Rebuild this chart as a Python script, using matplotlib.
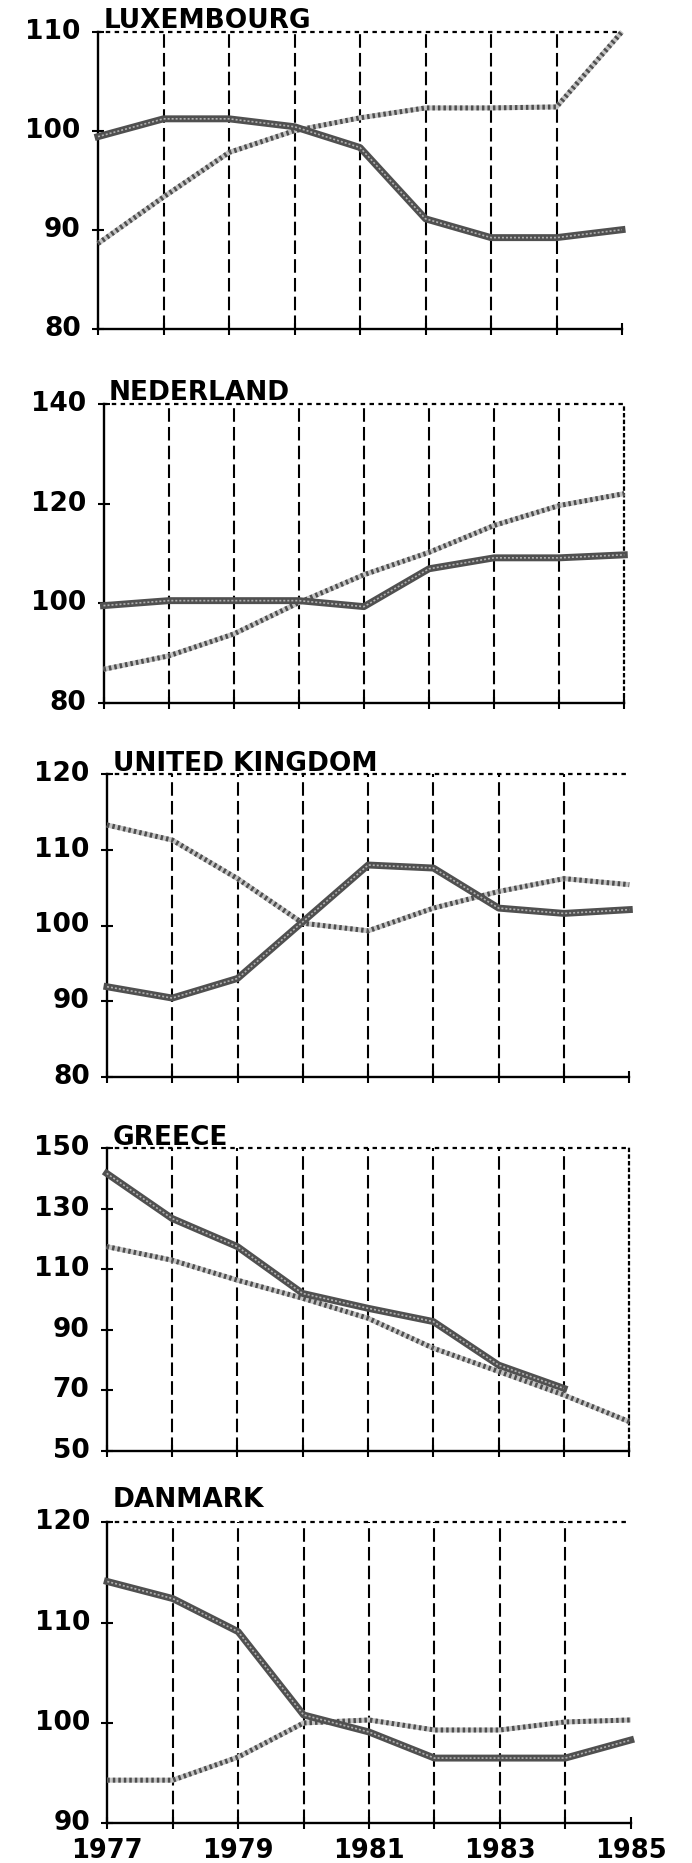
import matplotlib
matplotlib.use("Agg")
import matplotlib.pyplot as plt
import numpy as np

# ---------------- data ----------------
years = [1977, 1978, 1979, 1980, 1981, 1982, 1983, 1984, 1985]
year_labels = ["1977", "", "1979", "", "1981", "", "1983", "", "1985"]

countries = ["LUXEMBOURG", "NEDERLAND", "UNITED KINGDOM", "GREECE", "DANMARK"]

lux_solid = [99.4, 101.2, 101.2, 100.4, 98.3, 91.1, 89.2, 89.2, 90.0]
lux_dotted = [88.6, 93.3, 97.8, 100.0, 101.3, 102.3, 102.3, 102.4, 110.0]

ned_solid = [99.5, 100.5, 100.5, 100.5, 99.3, 106.9, 109.1, 109.1, 109.7]
ned_dotted = [86.7, 89.4, 93.8, 100.1, 105.7, 110.2, 115.6, 119.6, 122.0]

uk_solid = [91.9, 90.4, 93.0, 100.5, 108.0, 107.6, 102.3, 101.6, 102.1]
uk_dotted = [113.3, 111.3, 106.2, 100.3, 99.3, 102.3, 104.5, 106.2, 105.4]

gr_solid = [141.7, 126.8, 117.5, 102.0, 97.1, 92.7, 78.3, 70.6, np.nan]
gr_dotted = [117.5, 113.0, 106.4, 100.4, 93.8, 83.9, 76.2, 68.4, 59.6]

dk_solid = [114.1, 112.4, 109.1, 100.8, 99.1, 96.5, 96.5, 96.5, 98.3]
dk_dotted = [94.3, 94.3, 96.6, 100.0, 100.3, 99.3, 99.3, 100.1, 100.3]

solid_series = [lux_solid, ned_solid, uk_solid, gr_solid, dk_solid]
dotted_series = [lux_dotted, ned_dotted, uk_dotted, gr_dotted, dk_dotted]

y_ticks = [
    [80, 90, 100, 110],
    [80, 100, 120, 140],
    [80, 90, 100, 110, 120],
    [50, 70, 90, 110, 130, 150],
    [90, 100, 110, 120],
]

# ---------------- layout / style ----------------
W, H = 692, 1863
# panel boxes in pixels: left, right, top, bottom
boxes = [
    (98, 622, 31.7, 328.7),
    (103.5, 624.3, 404, 702.7),
    (107, 629.3, 774.3, 1076.7),
    (106.7, 629.3, 1148.3, 1450.7),
    (107.3, 630.7, 1522.3, 1823.3),
]
right_border = [False, True, False, True, False]
title_raise = [4, 4, 3, 3, 15]

fig = plt.figure(figsize=(W / 100, H / 100), dpi=100)
fig.patch.set_facecolor("white")

ylabel_font = dict(family="DejaVu Sans", weight="bold", size=19)
xlabel_font = dict(family="DejaVu Sans", weight="bold", size=18.5)

for i in range(5):
    l, r, t, b = boxes[i]
    ax = fig.add_axes([l / W, 1 - b / H, (r - l) / W, (b - t) / H])
    ax.set_facecolor("none")
    ticks = y_ticks[i]
    ax.set_xlim(years[0], years[-1])
    ax.set_ylim(ticks[0], ticks[-1])

    # spines
    for s in ("left", "bottom"):
        ax.spines[s].set_linewidth(1.7)
        ax.spines[s].set_color("black")
    ax.spines["top"].set_linestyle((0, (1, 3)))
    ax.spines["top"].set_linewidth(1.6)
    if right_border[i]:
        ax.spines["right"].set_linestyle((0, (1, 2)))
        ax.spines["right"].set_linewidth(1.6)
    else:
        ax.spines["right"].set_visible(False)

    # dashed verticals for inner years
    for yr in years[1:-1]:
        ax.axvline(yr, color="black", lw=1.5, ls=(0, (6.5, 2.5)), zorder=1)

    # series
    ax.plot(years, dotted_series[i], color="#c4c4c4", lw=3.6,
            solid_capstyle="butt", zorder=3, clip_on=False)
    ax.plot(years, dotted_series[i], color="#4e4e4e", lw=3.6,
            ls=(0, (0.5, 0.6)), zorder=3, clip_on=False)
    ax.plot(years, solid_series[i], color="#505050", lw=5.0,
            solid_joinstyle="round", zorder=4, clip_on=False)
    ax.plot(years, solid_series[i], color="#b0b0b0", lw=1.2,
            ls=(0, (1.2, 1.2)), zorder=5, clip_on=False)

    # ticks
    ax.set_xticks(years)
    if i == 4:
        ax.set_xticklabels(year_labels, fontdict=xlabel_font)
    else:
        ax.set_xticklabels([])
    ax.set_yticks(ticks)
    ax.set_yticklabels([str(v) for v in ticks], fontdict=ylabel_font,
                       va="center")
    ax.tick_params(axis="both", direction="inout", length=9, width=1.5,
                   color="black")
    ax.tick_params(axis="y", pad=8)
    ax.tick_params(axis="x", pad=6)

    # title
    ax.annotate(countries[i], xy=(0, 1), xycoords="axes fraction",
                xytext=(4, title_raise[i] * 0.72), textcoords="offset points",
                ha="left", va="baseline", fontsize=19, fontweight="bold",
                family="DejaVu Sans")

fig.savefig("out.png", dpi=100, facecolor="white")
